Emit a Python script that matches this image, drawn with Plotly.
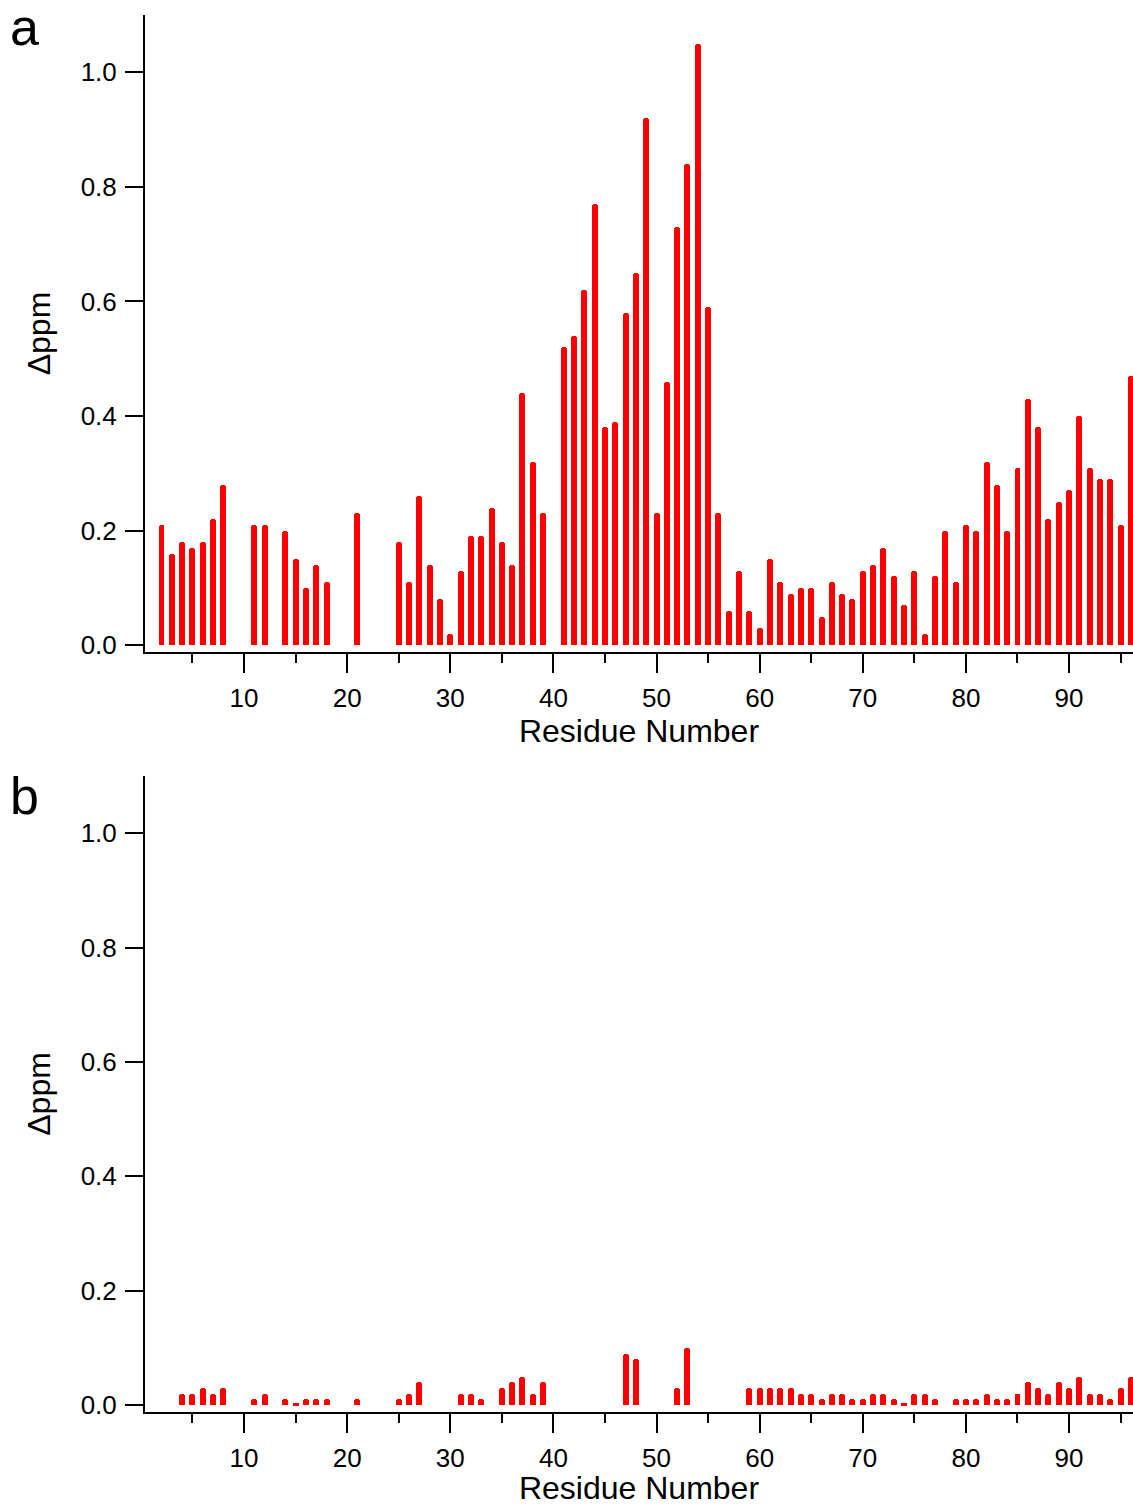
import plotly.graph_objects as go

# Panel a data
residues_a = [2, 3, 4, 5, 6, 7, 8, 11, 12, 14, 15, 16, 17, 18, 21,
              25, 26, 27, 28, 29, 30, 31, 32, 33, 34, 35, 36, 37, 38, 39,
              41, 42, 43, 44, 45, 46, 47, 48, 49, 50, 51, 52, 53, 54, 55, 56,
              57, 58, 59, 60, 61, 62, 63, 64, 65, 66, 67, 68, 69, 70, 71, 72,
              73, 74, 75, 76, 77, 78, 79, 80, 81, 82, 83, 84, 85, 86, 87, 88,
              89, 90, 91, 92, 93, 94, 95, 96]
dppm_a = [0.21, 0.16, 0.18, 0.17, 0.18, 0.22, 0.28, 0.21, 0.21, 0.20, 0.15, 0.10, 0.14, 0.11, 0.23,
          0.18, 0.11, 0.26, 0.14, 0.08, 0.02, 0.13, 0.19, 0.19, 0.24, 0.18, 0.14, 0.44, 0.32, 0.23,
          0.52, 0.54, 0.62, 0.77, 0.38, 0.39, 0.58, 0.65, 0.92, 0.23, 0.46, 0.73, 0.84, 1.05, 0.59, 0.23,
          0.06, 0.13, 0.06, 0.03, 0.15, 0.11, 0.09, 0.10, 0.10, 0.05, 0.11, 0.09, 0.08, 0.13, 0.14, 0.17,
          0.12, 0.07, 0.13, 0.02, 0.12, 0.20, 0.11, 0.21, 0.20, 0.32, 0.28, 0.20, 0.31, 0.43, 0.38, 0.22,
          0.25, 0.27, 0.40, 0.31, 0.29, 0.29, 0.21, 0.47]

# Panel b data
residues_b = [4, 5, 6, 7, 8, 11, 12, 14, 15, 16, 17, 18, 21, 25, 26, 27,
              31, 32, 33, 35, 36, 37, 38, 39, 47, 48, 52, 53,
              59, 60, 61, 62, 63, 64, 65, 66, 67, 68, 69, 70, 71, 72, 73, 74, 75, 76, 77,
              79, 80, 81, 82, 83, 84, 85, 86, 87, 88, 89, 90, 91, 92, 93, 94, 95, 96]
dppm_b = [0.02, 0.02, 0.03, 0.02, 0.03, 0.01, 0.02, 0.01, 0.003, 0.01, 0.01, 0.01, 0.01, 0.01, 0.02, 0.04,
          0.02, 0.02, 0.01, 0.03, 0.04, 0.05, 0.02, 0.04, 0.09, 0.08, 0.03, 0.10,
          0.03, 0.03, 0.03, 0.03, 0.03, 0.02, 0.02, 0.01, 0.02, 0.02, 0.01, 0.01, 0.02, 0.02, 0.01, 0.003, 0.02, 0.02, 0.01,
          0.01, 0.01, 0.01, 0.02, 0.01, 0.01, 0.02, 0.04, 0.03, 0.02, 0.04, 0.03, 0.05, 0.02, 0.02, 0.01, 0.03, 0.05]

y_ticks = [0.0, 0.2, 0.4, 0.6, 0.8, 1.0]
x_ticks = [10, 20, 30, 40, 50, 60, 70, 80, 90]
panel_labels = ["a", "b"]

FONT = "Arial, Liberation Sans, sans-serif"
RED = "#FF0000"

fig = go.Figure()
fig.add_trace(go.Bar(x=residues_a, y=dppm_a, width=0.58, marker=dict(color=RED, line=dict(width=0), cornerradius="50%"),
                     xaxis="x", yaxis="y", showlegend=False))
fig.add_trace(go.Bar(x=residues_b, y=dppm_b, width=0.58, marker=dict(color=RED, line=dict(width=0), cornerradius="50%"),
                     xaxis="x2", yaxis="y2", showlegend=False))

xcommon = dict(range=[0.4, 96.2], showline=True, linecolor="black", linewidth=2,
               ticks="outside", ticklen=19, tickwidth=2, tickcolor="black",
               tickvals=x_ticks, showgrid=False, zeroline=False,
               tickfont=dict(family=FONT, size=26, color="black"),
               ticklabelstandoff=3,
               minor=dict(ticks="outside", ticklen=9, tickwidth=2, tickcolor="black", dtick=5, tick0=0, showgrid=False),
               title=dict(text="Residue Number", font=dict(family=FONT, size=32, color="black"), standoff=5))
ycommon = dict(range=[-0.012, 1.1], showline=True, linecolor="black", linewidth=2,
               ticks="outside", ticklen=18, tickwidth=2, tickcolor="black",
               tickvals=y_ticks, tickformat=".1f", showgrid=False, zeroline=False,
               tickfont=dict(family=FONT, size=26, color="black"),
               ticklabelstandoff=3,
               title=dict(text="Δppm", font=dict(family=FONT, size=32, color="black"), standoff=20))

fig.update_layout(
    width=1133, height=1506,
    margin=dict(l=145, r=0, t=15, b=94, autoexpand=False),
    paper_bgcolor="white", plot_bgcolor="white",
    bargap=0,
    xaxis=dict(xcommon, domain=[0, 1], anchor="y"),
    yaxis=dict(ycommon, domain=[0.544, 1], anchor="x"),
    xaxis2=dict(xcommon, domain=[0, 1], anchor="y2"),
    yaxis2=dict(ycommon, domain=[0, 0.4553], anchor="x2"),
    annotations=[
        dict(text=panel_labels[0], x=-0.139, y=0.9915, xref="paper", yref="paper",
             xanchor="left", yanchor="middle", showarrow=False,
             font=dict(family=FONT, size=52, color="black")),
        dict(text=panel_labels[1], x=-0.139, y=0.4410, xref="paper", yref="paper",
             xanchor="left", yanchor="middle", showarrow=False,
             font=dict(family=FONT, size=52, color="black")),
    ],
)

fig.write_html("out.html", config={"displayModeBar": False},
               post_script="document.body.style.margin='0';document.body.style.overflow='hidden';")
